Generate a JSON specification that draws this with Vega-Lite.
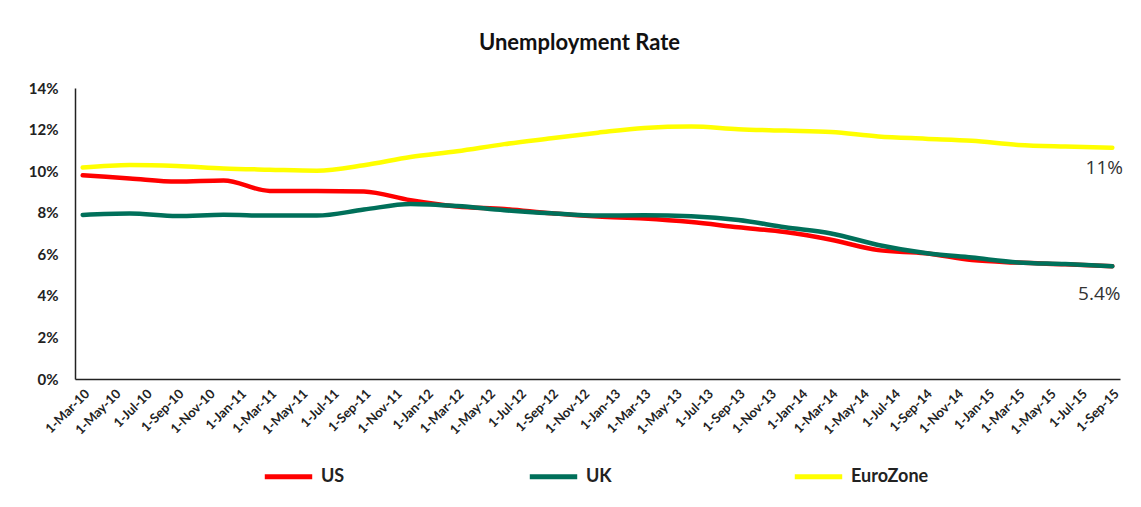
{
  "$schema": "https://vega.github.io/schema/vega-lite/v6.json",
  "width": 1045,
  "height": 291,
  "autosize": {"type": "none"},
  "padding": {"left": 75, "top": 88, "right": 21, "bottom": 128},
  "background": "white",
  "config": {"view": {"stroke": null}},
  "title": {
    "text": "Unemployment Rate",
    "font": "Lato",
    "fontSize": 22,
    "fontWeight": "bold",
    "color": "#111111",
    "anchor": "middle",
    "dx": -18,
    "offset": 26
  },
  "datasets": {
    "rates": [
      {"date": "2010-03-01", "country": "US", "rate": 9.8},
      {"date": "2010-06-01", "country": "US", "rate": 9.65},
      {"date": "2010-09-01", "country": "US", "rate": 9.5},
      {"date": "2010-12-01", "country": "US", "rate": 9.55},
      {"date": "2011-03-01", "country": "US", "rate": 9.05},
      {"date": "2011-06-01", "country": "US", "rate": 9.05},
      {"date": "2011-09-01", "country": "US", "rate": 9.02},
      {"date": "2011-12-01", "country": "US", "rate": 8.6},
      {"date": "2012-03-01", "country": "US", "rate": 8.3},
      {"date": "2012-06-01", "country": "US", "rate": 8.18},
      {"date": "2012-09-01", "country": "US", "rate": 7.97},
      {"date": "2012-12-01", "country": "US", "rate": 7.82},
      {"date": "2013-03-01", "country": "US", "rate": 7.72},
      {"date": "2013-06-01", "country": "US", "rate": 7.55},
      {"date": "2013-09-01", "country": "US", "rate": 7.3},
      {"date": "2013-12-01", "country": "US", "rate": 7.07},
      {"date": "2014-03-01", "country": "US", "rate": 6.7},
      {"date": "2014-06-01", "country": "US", "rate": 6.2},
      {"date": "2014-09-01", "country": "US", "rate": 6.05},
      {"date": "2014-12-01", "country": "US", "rate": 5.72},
      {"date": "2015-03-01", "country": "US", "rate": 5.6},
      {"date": "2015-06-01", "country": "US", "rate": 5.52},
      {"date": "2015-09-01", "country": "US", "rate": 5.43},
      {"date": "2010-03-01", "country": "UK", "rate": 7.89},
      {"date": "2010-06-01", "country": "UK", "rate": 7.96},
      {"date": "2010-09-01", "country": "UK", "rate": 7.84},
      {"date": "2010-12-01", "country": "UK", "rate": 7.9},
      {"date": "2011-03-01", "country": "UK", "rate": 7.86},
      {"date": "2011-06-01", "country": "UK", "rate": 7.86},
      {"date": "2011-09-01", "country": "UK", "rate": 8.15},
      {"date": "2011-12-01", "country": "UK", "rate": 8.42},
      {"date": "2012-03-01", "country": "UK", "rate": 8.32},
      {"date": "2012-06-01", "country": "UK", "rate": 8.12},
      {"date": "2012-09-01", "country": "UK", "rate": 7.97},
      {"date": "2012-12-01", "country": "UK", "rate": 7.86},
      {"date": "2013-03-01", "country": "UK", "rate": 7.88},
      {"date": "2013-06-01", "country": "UK", "rate": 7.83},
      {"date": "2013-09-01", "country": "UK", "rate": 7.65},
      {"date": "2013-12-01", "country": "UK", "rate": 7.3},
      {"date": "2014-03-01", "country": "UK", "rate": 7.0},
      {"date": "2014-06-01", "country": "UK", "rate": 6.45},
      {"date": "2014-09-01", "country": "UK", "rate": 6.06},
      {"date": "2014-12-01", "country": "UK", "rate": 5.84},
      {"date": "2015-03-01", "country": "UK", "rate": 5.61},
      {"date": "2015-06-01", "country": "UK", "rate": 5.53},
      {"date": "2015-09-01", "country": "UK", "rate": 5.42},
      {"date": "2010-03-01", "country": "EuroZone", "rate": 10.17},
      {"date": "2010-06-01", "country": "EuroZone", "rate": 10.3},
      {"date": "2010-09-01", "country": "EuroZone", "rate": 10.25},
      {"date": "2010-12-01", "country": "EuroZone", "rate": 10.13},
      {"date": "2011-03-01", "country": "EuroZone", "rate": 10.07},
      {"date": "2011-06-01", "country": "EuroZone", "rate": 10.02},
      {"date": "2011-09-01", "country": "EuroZone", "rate": 10.28},
      {"date": "2011-12-01", "country": "EuroZone", "rate": 10.68},
      {"date": "2012-03-01", "country": "EuroZone", "rate": 10.96},
      {"date": "2012-06-01", "country": "EuroZone", "rate": 11.3},
      {"date": "2012-09-01", "country": "EuroZone", "rate": 11.58},
      {"date": "2012-12-01", "country": "EuroZone", "rate": 11.85},
      {"date": "2013-03-01", "country": "EuroZone", "rate": 12.08},
      {"date": "2013-06-01", "country": "EuroZone", "rate": 12.15},
      {"date": "2013-09-01", "country": "EuroZone", "rate": 12.02},
      {"date": "2013-12-01", "country": "EuroZone", "rate": 11.95},
      {"date": "2014-03-01", "country": "EuroZone", "rate": 11.88},
      {"date": "2014-06-01", "country": "EuroZone", "rate": 11.67},
      {"date": "2014-09-01", "country": "EuroZone", "rate": 11.56},
      {"date": "2014-12-01", "country": "EuroZone", "rate": 11.46},
      {"date": "2015-03-01", "country": "EuroZone", "rate": 11.26},
      {"date": "2015-06-01", "country": "EuroZone", "rate": 11.18},
      {"date": "2015-09-01", "country": "EuroZone", "rate": 11.13}
    ],
    "noteEZ": [
      {"date": "2015-09-01", "rate": 11.13, "text": "11%"}
    ],
    "noteUK": [
      {"date": "2015-09-01", "rate": 5.42, "text": "5.4%"}
    ]
  },
  "layer": [
    {
      "data": {"name": "rates"},
      "mark": {"type": "line", "strokeWidth": 4.5, "strokeCap": "round", "strokeJoin": "round", "interpolate": "monotone"},
      "encoding": {
        "x": {
          "field": "date",
          "type": "temporal",
          "scale": {
            "type": "utc",
            "domain": [
              {"year": 2010, "month": 2, "date": 14, "utc": true},
              {"year": 2015, "month": 9, "date": 16, "utc": true}
            ]
          },
          "axis": {
            "title": null,
            "labelExpr": "utcFormat(datum.value, '%-d-%b-%y')",
            "tickCount": {"interval": "month", "step": 2},
            "labelAngle": -45,
            "labelAlign": "right",
            "labelBaseline": "top",
            "labelFont": "Lato",
            "labelFontSize": 13,
            "labelFontWeight": "bold",
            "labelColor": "#222222",
            "labelPadding": 8,
            "labelOverlap": false,
            "labelBound": false,
            "labelFlush": false,
            "ticks": false,
            "grid": false,
            "domainColor": "#222222",
            "domainWidth": 1.5
          }
        },
        "y": {
          "field": "rate",
          "type": "quantitative",
          "scale": {"domain": [0, 14], "nice": false},
          "axis": {
            "title": null,
            "values": [0, 2, 4, 6, 8, 10, 12, 14],
            "labelExpr": "datum.value + '%'",
            "labelFont": "Lato",
            "labelFontSize": 15,
            "labelFontWeight": "bold",
            "labelColor": "#222222",
            "labelPadding": 17,
            "ticks": false,
            "grid": false,
            "domainColor": "#222222",
            "domainWidth": 1.5
          }
        },
        "color": {
          "field": "country",
          "type": "nominal",
          "scale": {"domain": ["US", "UK", "EuroZone"], "range": ["#FF0000", "#00705A", "#FFFF00"]},
          "sort": ["US", "UK", "EuroZone"],
          "legend": {
            "title": null,
            "orient": "none",
            "direction": "horizontal",
            "legendX": 187,
            "legendY": 362,
            "symbolType": "stroke",
            "symbolSize": 2250,
            "symbolStrokeWidth": 5,
            "labelFont": "Lato",
            "labelFontSize": 18,
            "labelFontWeight": "bold",
            "labelColor": "#222222",
            "labelOffset": 6,
            "gridAlign": "all",
            "columnPadding": 120
          }
        }
      }
    },
    {
      "data": {"name": "noteEZ"},
      "mark": {"type": "text", "font": "Open Sans", "fontSize": 19, "color": "#333333", "align": "center", "baseline": "middle", "dx": -8, "dy": 20},
      "encoding": {
        "x": {"field": "date", "type": "temporal"},
        "y": {"field": "rate", "type": "quantitative"},
        "text": {"field": "text", "type": "nominal"}
      }
    },
    {
      "data": {"name": "noteUK"},
      "mark": {"type": "text", "font": "Open Sans", "fontSize": 19, "color": "#333333", "align": "center", "baseline": "middle", "dx": -13, "dy": 28},
      "encoding": {
        "x": {"field": "date", "type": "temporal"},
        "y": {"field": "rate", "type": "quantitative"},
        "text": {"field": "text", "type": "nominal"}
      }
    }
  ]
}
